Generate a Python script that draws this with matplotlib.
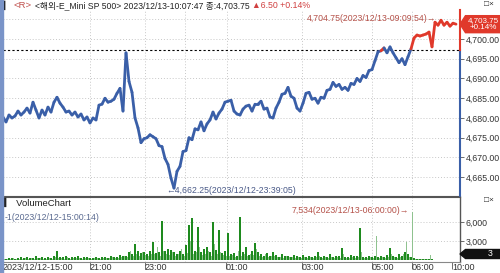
import numpy as np
import matplotlib
matplotlib.use("Agg")
import matplotlib.pyplot as plt
import matplotlib.transforms as mtransforms
from matplotlib.collections import LineCollection
from matplotlib.patches import Rectangle, Polygon
from matplotlib.ticker import FuncFormatter

plt.rcParams['font.family'] = ['Liberation Sans', 'Noto Sans CJK KR', 'DejaVu Sans']

# price samples (E-mini S&P 500, 2023/12/12 15:00 -> 2023/12/13 10:07)
price = [
    4680.25, 4679.0, 4680.75, 4680.0, 4680.5, 4681.75, 4680.75, 4681.5, 4682.5, 4681.25,
    4684.0, 4682.0, 4680.0, 4682.0, 4680.75, 4682.75, 4681.5, 4684.0, 4685.25, 4683.75,
    4682.75, 4681.5, 4681.75, 4680.75, 4681.5, 4680.25, 4681.0, 4679.5, 4680.25, 4678.75,
    4680.0, 4679.5, 4683.25, 4683.5, 4685.0, 4684.0, 4684.25, 4684.75, 4686.25, 4687.5,
    4681.75, 4696.5, 4689.25, 4686.5, 4680.0, 4677.5, 4673.75, 4674.75, 4675.0, 4675.75,
    4675.25, 4674.75, 4673.0, 4672.75, 4669.75, 4668.25, 4664.75, 4662.25, 4666.5, 4667.75,
    4671.5, 4671.75, 4675.0, 4674.5, 4677.25, 4677.0, 4679.0, 4676.75, 4678.5, 4679.5,
    4681.5, 4679.75, 4681.25, 4682.25, 4684.0, 4684.25, 4684.5, 4681.75, 4681.0, 4680.75,
    4682.25, 4683.0, 4683.25, 4681.75, 4683.5, 4683.5, 4684.25, 4682.25, 4682.5, 4680.25,
    4680.0, 4682.5, 4684.0, 4686.0, 4686.25, 4687.75, 4685.5, 4685.0, 4682.5, 4681.75,
    4683.75, 4686.25, 4686.5, 4684.75, 4685.0, 4683.75, 4685.25, 4685.0, 4687.0, 4687.25,
    4689.0, 4688.0, 4688.5, 4687.25, 4687.75, 4687.0, 4688.75, 4688.5, 4690.0, 4689.25,
    4690.75, 4690.25, 4692.0, 4692.25, 4694.5, 4696.75, 4697.0, 4697.75, 4696.5, 4698.0,
    4696.5, 4695.25, 4694.0, 4695.0, 4693.5, 4695.5, 4697.5, 4700.25, 4701.0, 4700.75,
    4701.0, 4701.25, 4701.75, 4698.0, 4704.25, 4703.5, 4704.75, 4703.5, 4704.25, 4703.25,
    4704.0, 4703.75,
]

vol_dark = [
    250, 180, 300, 350, 200, 320, 400, 260, 450, 380, 300, 600, 350, 420, 300, 500, 380, 650, 1400, 450,
    400, 700, 380, 520, 420, 650, 350, 480, 420, 300,
    380, 450, 350, 500, 420, 380, 600, 450, 400, 750, 600, 700, 1300, 1000, 2500, 1500, 1100,
    1200, 900, 1500, 2840, 1100, 1300, 6160, 1500, 1800, 1600, 1200, 900, 1400, 1000, 2300, 5500, 6600,
    1500, 5200, 1300, 1800, 2000, 1200, 6000, 1600, 4700, 1100, 1400,
    4300, 900, 1100, 700, 6800, 1200, 2000, 800, 1500, 2700, 1300, 900, 700, 1100, 600, 1300, 800, 500,
    900, 600, 700, 500, 800, 600, 450,
    800, 500, 600, 400, 700, 1300, 500, 600, 450, 900, 500, 700, 600, 1900, 500, 400, 800, 600, 700,
    5000, 500, 400, 600,
    500, 700, 400, 600, 500, 800, 1900, 600, 500, 900, 700, 1200, 900, 500,
    300, 200, 150, 200, 120, 100, 80, 60, 50, 40, 30, 20, 20, 10, 10,
]

vol_light = [
    150, 200, 120, 250, 180, 220, 160, 300, 200, 240, 150, 350, 260, 180, 220, 300, 200, 400, 300, 280,
    220, 420, 200, 330, 250, 380, 220, 280, 240, 200,
    260, 300, 220, 380, 280, 240, 420, 300, 260, 500, 700, 500, 1500, 600, 900, 700, 1300,
    800, 600, 1000, 900, 2000, 700, 1500, 1000, 800, 1200, 700, 900, 1800, 600, 1100, 3000, 900,
    1300, 2000, 800, 1000, 1500, 700, 2500, 900, 1300, 800, 700,
    600, 800, 500, 1400, 700, 900, 600, 1000, 800, 1800, 700, 500, 900, 400, 600, 700, 400, 500,
    300, 600, 400, 500, 300, 400, 350,
    400, 300, 500, 300, 400, 600, 300, 400, 300, 500, 300, 400, 350, 900, 300, 250, 500, 300, 400,
    1200, 300, 250, 400,
    300, 3800, 250, 400, 300, 500, 1000, 400, 300, 500, 900, 2800, 400, 7534,
    200, 150, 100, 120, 80, 800, 60, 50, 40, 30, 20, 20, 10, 10, 10,
]

prev_close = 4697.25
last_price = 4703.75
tick_labels = ["2023/12/12-15:00", "21:00", "23:00", "01:00", "03:00", "05:00", "06:00", "10:00"]
tick_pos = [0, 29, 47.33, 74.33, 99.67, 123, 136.33, 149.67]
vgrid_pos = [29, 47.33, 60.67, 74.67, 99.67, 123, 136.33]
price_ticks = [4665, 4670, 4675, 4680, 4685, 4690, 4695, 4700]

BLUE = "#3a5fa8"
RED = "#e0392b"
DARK_GREEN = "#1e8a1e"
LIGHT_GREEN = "#8fc28f"
GRID = "#c8c8c8"
TXT = "#333333"

x = np.arange(len(price))
p = np.array(price)

fig = plt.figure(figsize=(5, 2.73), dpi=100)
W, H = 500, 273
ax = fig.add_axes([3 / W, 1 - 196 / H, 457 / W, 186 / H])
axv = fig.add_axes([3 / W, 1 - 262 / H, 457 / W, 65 / H])
renderer = fig.canvas.get_renderer()

xmax = 152.33
ylo, yhi = 4660.25, 4707.34
# ---- price panel
ax.set_xlim(0, xmax)
ax.set_ylim(ylo, yhi)
for yv in price_ticks + [4705]:
    ax.axhline(yv, color=GRID, lw=0.7, ls=(0, (1, 2)), zorder=0)
for xv in vgrid_pos:
    ax.axvline(xv, color=GRID, lw=0.7, ls=(0, (1, 2)), zorder=0)
ax.axhline(prev_close, color="black", lw=0.8, ls=(0, (2, 2)), zorder=1)

pts = np.column_stack([x, p])
segs = np.stack([pts[:-1], pts[1:]], axis=1)
cols = [RED if (a + b) / 2 > prev_close else BLUE for a, b in zip(p[:-1], p[1:])]
ax.add_collection(LineCollection(segs, colors=cols, linewidths=2.0, zorder=3,
                                 capstyle="round", joinstyle="round"))

i_lo = int(np.argmin(p))
i_hi = int(np.argmax(p))
ax.text(i_lo - 2.5, p[i_lo] - 0.6, "\u2190" + f"{p[i_lo]:,.2f}(2023/12/12-23:39:05)",
        fontsize=6.3, color="#4a5a88", ha="left", va="center")
ax.text(i_hi - 1.5, p[i_hi] + 0.4, f"{p[i_hi]:,.2f}(2023/12/13-09:09:54)" + "\u2192",
        fontsize=6.3, color="#b5524a", ha="right", va="center")

ax.yaxis.tick_right()
ax.set_yticks(price_ticks)
ax.yaxis.set_major_formatter(FuncFormatter(lambda v, _: f"{v:,.2f}"))
ax.tick_params(axis="y", length=3, width=0.6, color="#555555", labelsize=6.3,
               labelcolor=TXT, pad=1)
ax.set_xticks([])
for s in ["top", "left", "right"]:
    ax.spines[s].set_visible(False)
ax.spines["bottom"].set_color("#555555")
ax.spines["bottom"].set_linewidth(0.8)
ax.plot([xmax, xmax], [ylo, prev_close], color=BLUE, lw=1.5, clip_on=False, zorder=5)
ax.plot([xmax, xmax], [prev_close, yhi], color=RED, lw=1.5, clip_on=False, zorder=5)

# current price tag
ym = ax.transAxes.inverted().transform(ax.transData.transform((0, last_price)))[1]
hh = 8.5 / 186
x0, x1, x2 = 1.0, 1.012, 1.1
ax.add_patch(Polygon([(x0, ym), (x1, ym + hh), (x2, ym + hh), (x2, ym - hh), (x1, ym - hh)],
                     closed=True, transform=ax.transAxes, fc=RED, ec=RED, clip_on=False, zorder=6))
ax.text(1.052, ym, f"{last_price:,.2f}\n+0.14%", transform=ax.transAxes, fontsize=5.8,
        color="white", ha="center", va="center", linespacing=0.95, zorder=7)

# ---- volume panel
axv.set_xlim(0, xmax)
axv.set_ylim(-316, 9950)
for yv in [3000, 6000]:
    axv.axhline(yv, color=GRID, lw=0.7, ls=(0, (1, 2)), zorder=0)
for xv in vgrid_pos:
    axv.axvline(xv, color=GRID, lw=0.7, ls=(0, (1, 2)), zorder=0)
axv.bar(x + 0.5, vol_light, width=0.65, color=LIGHT_GREEN, zorder=2)
axv.bar(x, vol_dark, width=0.65, color=DARK_GREEN, zorder=3)

i_vmax = int(np.argmax(vol_light))
axv.text(i_vmax - 0.5, vol_light[i_vmax] + 300, f"{vol_light[i_vmax]:,}(2023/12/13-06:00:00)" + "\u2192",
         fontsize=6.3, color="#b5524a", ha="right", va="center")
axv.text(0.003, 0.68, "-1(2023/12/12-15:00:14)", transform=axv.transAxes,
         fontsize=6.3, color="#5a6a90", ha="left", va="center")
axv.text(0.003, 0.9, "\u258e VolumeChart", transform=axv.transAxes,
         fontsize=6.8, color="#222222", ha="left", va="center")

axv.yaxis.tick_right()
axv.set_yticks([3000, 6000])
axv.yaxis.set_major_formatter(FuncFormatter(lambda v, _: f"{v:,.0f}"))
axv.tick_params(axis="y", length=3, width=0.6, color="#555555", labelsize=6.3,
                labelcolor=TXT, pad=1)
axv.set_xticks(tick_pos)
axv.set_xticklabels(tick_labels)
shift = mtransforms.ScaledTranslation(1.2 / 72, 0, fig.dpi_scale_trans)
for lbl in axv.get_xticklabels():
    lbl.set_horizontalalignment("left")
    lbl.set_transform(lbl.get_transform() + shift)
axv.tick_params(axis="x", length=5, width=0.6, color="#555555", labelsize=6.5,
                labelcolor=TXT, pad=-4.5)
axv.spines["top"].set_color("#555555")
axv.spines["top"].set_linewidth(0.8)
axv.spines["left"].set_visible(False)
axv.spines["bottom"].set_color("#888888")
axv.spines["right"].set_color("#555555")
axv.spines["right"].set_linewidth(1.0)

# volume tag
vm = (262 - 254) / 65
vh = 4.5 / 65
x2v = 40 / 457
axv.add_patch(Polygon([(1.0, vm), (1.012, vm + vh), (1 + x2v, vm + vh), (1 + x2v, vm - vh),
                       (1.012, vm - vh)], closed=True, transform=axv.transAxes,
                      fc="#111111", ec="#111111", clip_on=False, zorder=6))
axv.text(1.066, vm, "3", transform=axv.transAxes, fontsize=6.3, color="white",
         ha="center", va="center", zorder=7)

# ---- header and frame
fig.patches.append(Rectangle((0, 0), 2.5 / W, 1, transform=fig.transFigure,
                             color="#7a94c8", zorder=10))
ty = 1 - 6 / H


def put(xpx, s, color, size=6.8, maxw=None):
    t = fig.text(xpx / W, ty, s, fontsize=size, color=color, va="center", ha="left")
    w = t.get_window_extent(renderer).width
    if maxw is not None and w > maxw:
        t.set_fontsize(size * maxw / w)
    return t.get_window_extent(renderer).x1


e = put(3, "\u258e", "#111111")
e = put(e + 1, "<R>", "#c0504d")
put(e + 3, "<해외-E_Mini SP 500> 2023/12/13-10:07:47 종:4,703.75", "#222222", maxw=216)
put(252, "\u25b26.50 +0.14%", "#d04040", maxw=58)
fig.text(484 / W, 1 - 4 / H, "\u25a1\u00d7", fontsize=6, color="#333333", va="center")
fig.text(484 / W, 1 - 200 / H, "\u25a1\u00d7", fontsize=6, color="#333333", va="center")

fig.savefig("out.png", dpi=100)
